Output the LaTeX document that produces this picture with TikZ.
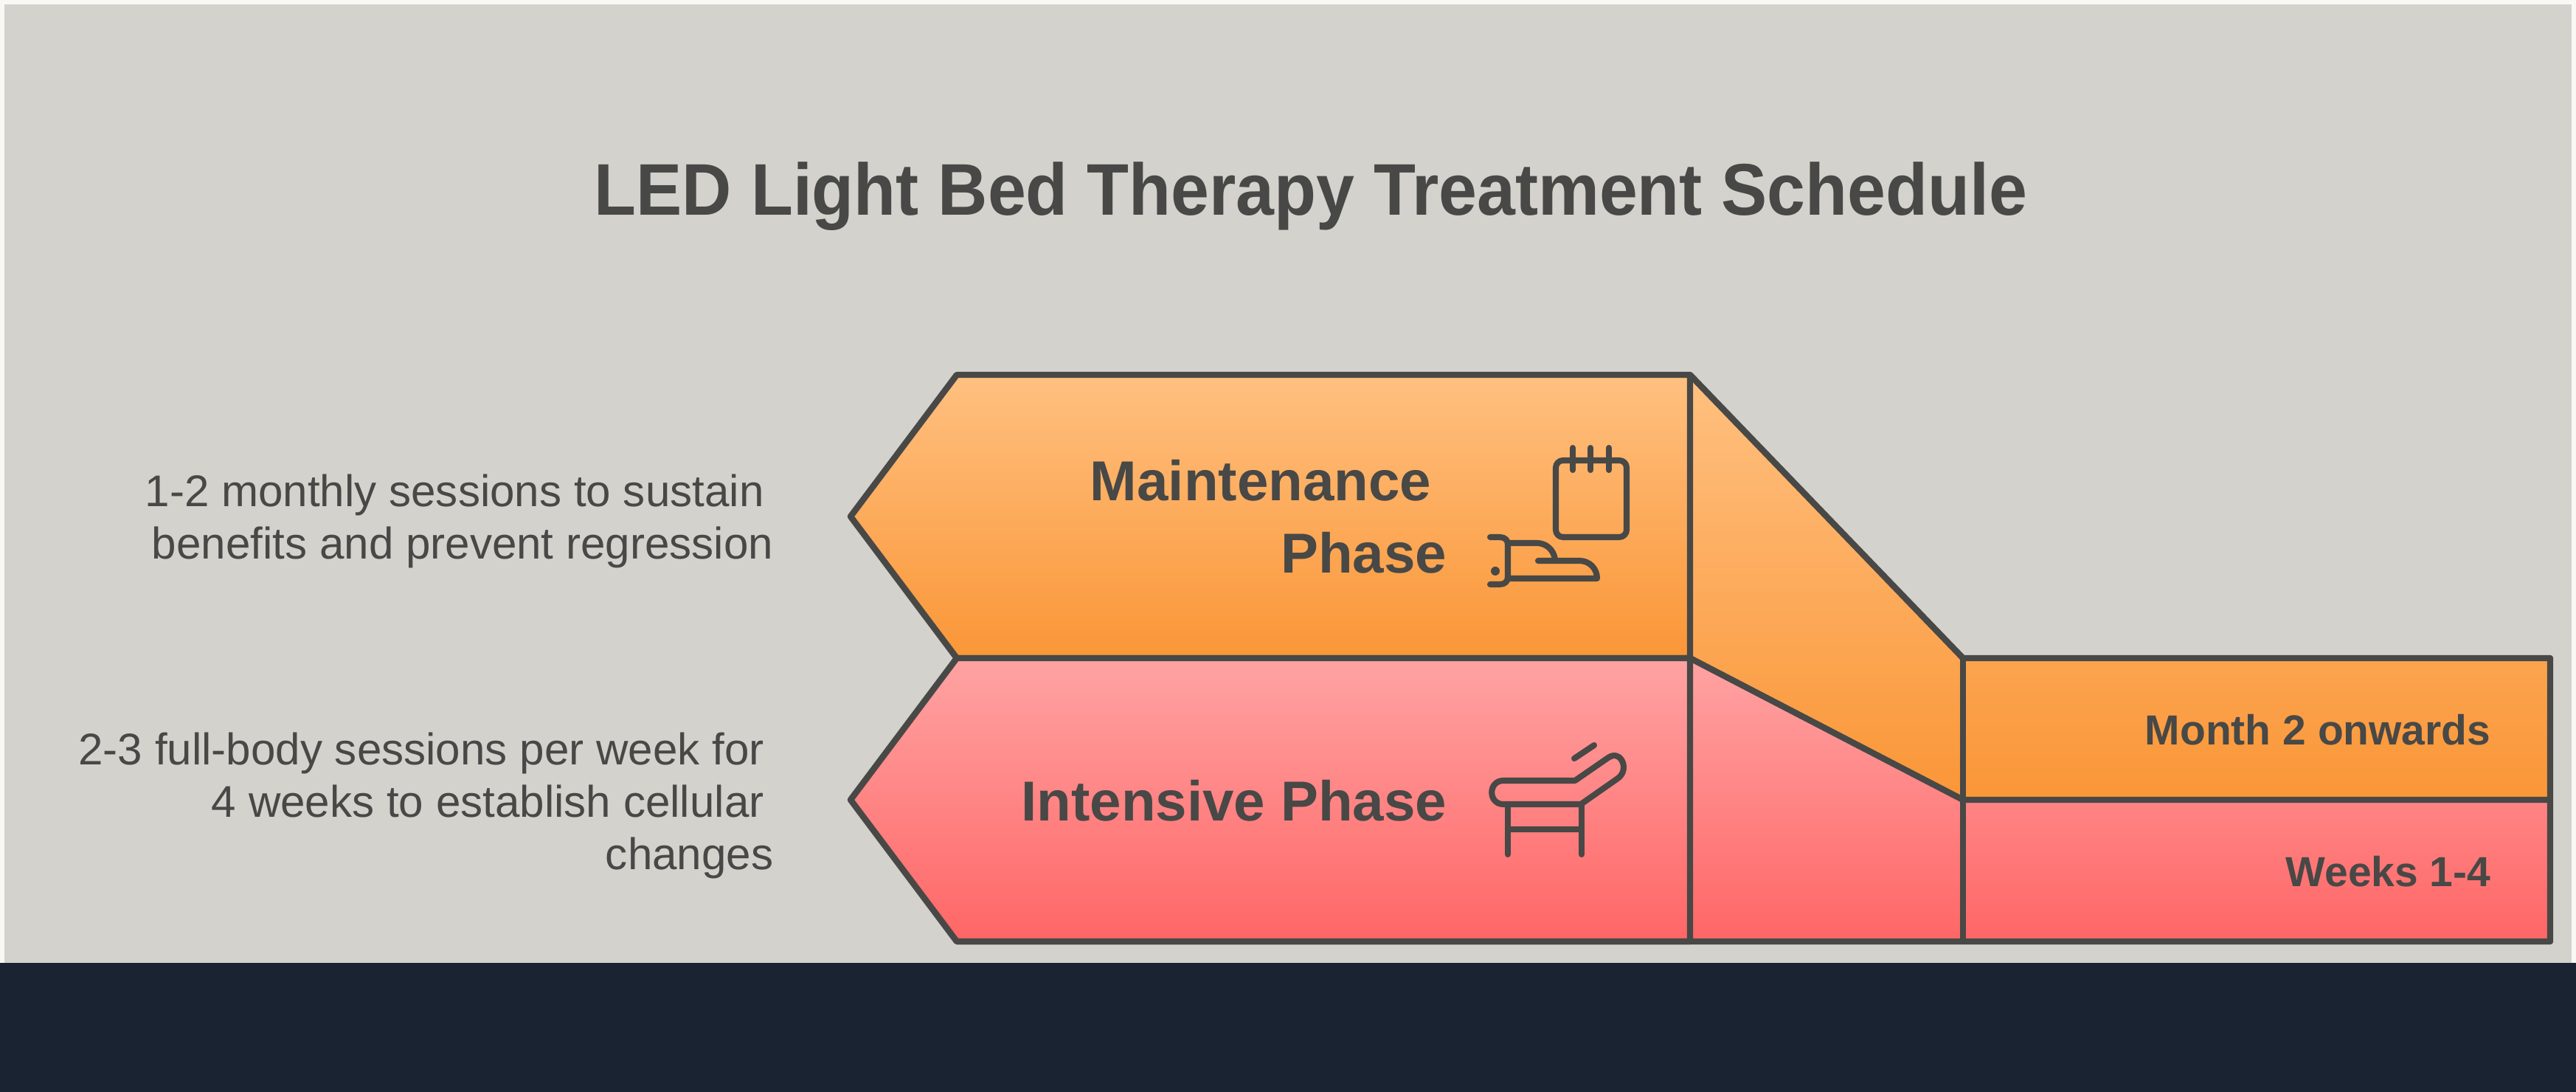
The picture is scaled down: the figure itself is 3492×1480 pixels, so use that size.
\documentclass[tikz,border=0pt]{standalone}
\usepackage{fontspec}
\setmainfont{Liberation Sans}
\newfontfamily\titlefont[FakeStretch=0.94]{Liberation Sans}
\usetikzlibrary{positioning, calc}
\definecolor{paper}{RGB}{249, 248, 244}
\definecolor{panelgrey}{RGB}{211, 210, 205}
\definecolor{navy}{RGB}{26, 35, 50}
\definecolor{inkgrey}{RGB}{72, 72, 70}
\definecolor{orangetop}{RGB}{255, 192, 128}
\definecolor{orangebot}{RGB}{250, 150, 55}
\definecolor{redtop}{RGB}{255, 163, 163}
\definecolor{redbot}{RGB}{255, 102, 102}

\begin{document}
\begin{tikzpicture}[x=0.01cm, y=-0.01cm,
  phasebox/.style={draw=inkgrey, line width=2.4pt, line join=round},
  orangefill/.style={top color=orangetop, bottom color=orangebot},
  redfill/.style={top color=redtop, bottom color=redbot},
  icon/.style={draw=inkgrey, line width=2.3pt, line cap=round, line join=round},
  note/.style={font=\fontsize{17.1}{20.2}\selectfont, text=inkgrey, align=right, anchor=east, inner sep=0pt},
  phaselabel/.style={font=\fontsize{21.7}{27.8}\selectfont\bfseries, text=inkgrey, align=right, anchor=east, inner sep=0pt},
  timelabel/.style={font=\fontsize{16.2}{19}\selectfont\bfseries, text=inkgrey, anchor=east, inner sep=0pt}
]
  \useasboundingbox (0,0) rectangle (3492,1480);
  \fill[paper] (0,0) rectangle (3492,1480);
  \fill[panelgrey] (6,6) rectangle (3486,1305);
  \fill[navy] (0,1305) rectangle (3492,1480);

  % corners of the two phases
  \coordinate (mtip) at (1153,700);
  \coordinate (mtl) at (1297,508);
  \coordinate (mtr) at (2291,508);
  \coordinate (mbl) at (1297,892);
  \coordinate (mbr) at (2291,892);
  \coordinate (stepm) at (2661,892);
  \coordinate (endm) at (3457,892);
  \coordinate (stepi) at (2661,1084);
  \coordinate (endi) at (3457,1084);
  \coordinate (itip) at (1153,1084);
  \coordinate (ibl) at (1297,1276);
  \coordinate (ibr) at (2291,1276);
  \coordinate (ibs) at (2661,1276);
  \coordinate (iend) at (3457,1276);

  \path[orangefill] (mtr) -- (stepm) -- (endm) -- (endi) -- (stepi) -- (mbr) -- cycle;
  \path[redfill] (mbr) -- (stepi) -- (endi) -- (iend) -- (ibr) -- cycle;
  \draw[phasebox, orangefill] (mtip) -- (mtl) -- (mtr) -- (mbr) -- (mbl) -- cycle;
  \draw[phasebox, redfill] (itip) -- (mbl) -- (mbr) -- (ibr) -- (ibl) -- cycle;
  \draw[phasebox] (mtr) -- (stepm) -- (endm) -- (iend) -- (ibl);
  \draw[phasebox] (mbr) -- (stepi) -- (endi);
  \draw[phasebox] (stepm) -- (ibs);

  \node[font=\titlefont\fontsize{28.2}{34}\selectfont\bfseries, text=inkgrey] (title) at (1777,266) {LED Light Bed Therapy Treatment Schedule};

  \node[note] (mnote) at (1049,706) {1-2 monthly sessions to sustain\kern3.6pt\\benefits and prevent regression};
  \node[note] (inote) at (1049,1092) {2-3 full-body sessions per week for\kern3.6pt\\4 weeks to establish cellular\kern3.6pt\\changes};

  \node[phaselabel] (mlabel) at (1962,700) {Maintenance\kern6pt\\Phase};
  \node[phaselabel] (ilabel) at (1962,1085) {Intensive Phase};
  \node[timelabel] (mtime) at (3377,989) {Month 2 onwards};
  \node[timelabel] (itime) at (3377,1181) {Weeks 1-4};

  % calendar
  \draw[icon, rounded corners=2.8pt] (2109,624) rectangle (2205,728);
  \foreach \cx in {2132,2156,2181} \draw[icon] (\cx,607) -- (\cx,637);
  % hand
  \draw[icon] (2020,728) -- (2033,728) .. controls (2040,728) and (2044,732) .. (2044,738) -- (2044,782) .. controls (2044,788) and (2040,792) .. (2033,792) -- (2020,792);
  \draw[icon] (2044,736) -- (2083,736) .. controls (2096,736) and (2106,745) .. (2108,758);
  \draw[icon] (2085,760) -- (2141,760) .. controls (2155,760) and (2165,771) .. (2165,784) -- (2044,784);
  \fill[inkgrey] (2027,774) circle (6);
  % bed
  \draw[icon] (2134,1028) -- (2161,1010);
  \draw[icon] (2038,1058) -- (2135,1058) -- (2180,1027) .. controls (2197,1015) and (2210,1043) .. (2193,1055) -- (2143,1090) -- (2038,1090) .. controls (2017,1090) and (2017,1058) .. (2038,1058) -- cycle;
  \draw[icon] (2044,1090) -- (2044,1158);
  \draw[icon] (2144,1090) -- (2144,1158);
  \draw[icon] (2044,1124) -- (2144,1124);
\end{tikzpicture}
\end{document}
